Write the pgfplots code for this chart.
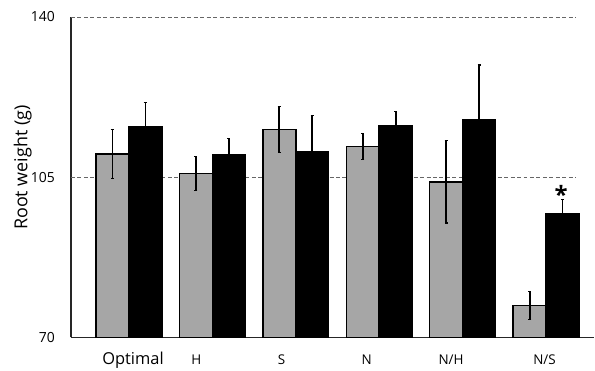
\documentclass[border=0pt]{standalone}
\usepackage{pgfplots}
\pgfplotsset{compat=1.18}
\usepackage{fontspec}
\setmainfont{Open Sans}
\definecolor{barg}{HTML}{A6A6A6}
\begin{document}
\begin{tikzpicture}
\begin{axis}[
  name=ax,
  scale only axis,
  width=524bp, height=321bp,
  xmin=-0.694, xmax=5.574,
  ymin=70, ymax=140,
  axis x line*=bottom, axis y line*=left,
  axis line style={line width=1.8pt, black!85},
  ytick={70,105,140},
  xtick={0.05,0.81,1.83,2.85,3.86,4.98},
  xticklabels={{\fontsize{16.5}{18}\selectfont Optimal},H,S,N,N/H,N/S},
  major tick length=0pt,
  /pgf/number format/assume math mode=true,
  yticklabel style={font=\fontsize{14}{15}\selectfont, anchor=east, inner sep=0pt, xshift=-16bp},
  xticklabel style={font=\fontsize{13.5}{15}\selectfont, anchor=base, inner sep=0pt, yshift=-27bp},
  ylabel={Root weight (g)},
  ylabel style={font=\fontsize{18}{20}\selectfont, at={(axis description cs:-0.092,0.53)}, anchor=center},
  clip=false,
  ybar,
  bar width=0.395,
  error bars/y dir=both,
  error bars/y explicit,
  error bars/error bar style={line width=1.6pt, black},
  error bars/error mark options={rotate=90, mark size=1.6pt, line width=1.2pt, black},
]
\draw[dash pattern=on 4pt off 2.5pt, black!60, line width=0.7pt] (axis cs:-0.694,105) -- (axis cs:5.36,105);
\draw[dash pattern=on 4pt off 2.5pt, black!60, line width=0.7pt] (axis cs:-0.694,140) -- (axis cs:5.36,140);
\addplot[bar shift=-0.1975, fill=barg, draw=black, line width=1.5pt]
  coordinates {
    (0,110.1) +- (0,5.3)
    (1,105.8) +- (0,3.7)
    (2,115.4) +- (0,5.0)
    (3,111.7) +- (0,2.9)
    (4,104.0) +- (0,9.0)
    (5,77.0) +- (0,3.0)
  };
\addplot[bar shift=0.1975, fill=black, draw=black, line width=1.5pt]
  coordinates {
    (0,116.0) +- (0,5.4)
    (1,109.9) +- (0,3.5)
    (2,110.6) +- (0,7.8)
    (3,116.2) +- (0,3.1)
    (4,117.6) +- (0,11.9)
    (5,97.0) +- (0,3.1)
  };
\node[font=\fontsize{24}{24}\selectfont\bfseries] at (axis cs:5.18,101.2) {*};
\end{axis}
\path ([xshift=-71bp,yshift=-33bp]ax.south west) rectangle ([yshift=17bp]ax.north east);
\end{tikzpicture}
\end{document}
